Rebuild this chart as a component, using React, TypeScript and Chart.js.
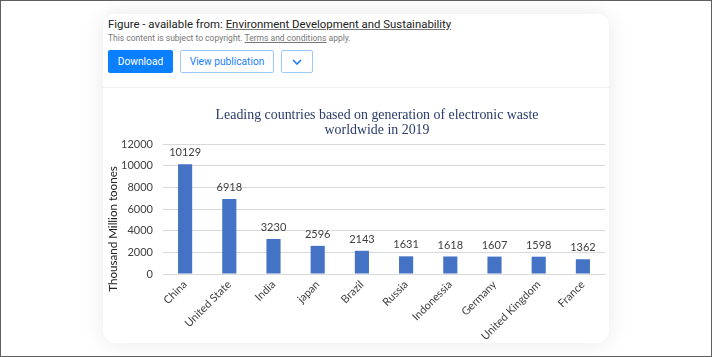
import React, { useEffect, useRef } from "react";
import { Chart, registerables } from "chart.js";

Chart.register(...registerables);

const categories = ["China", "United State", "India", "japan", "Brazil", "Russia", "Indonessia", "Germany", "United Kingdom", "France"];
const values = [10129, 6918, 3230, 2596, 2143, 1631, 1618, 1607, 1598, 1362];
const yTicks = [0, 2000, 4000, 6000, 8000, 10000, 12000];
const titleLines = ["Leading countries based on generation of electronic waste", "worldwide in 2019"];
const yTitle = "Thousand Million toones";

const FONT = "Lato, 'Open Sans', sans-serif";

const titlePlugin = {
  id: "customTitle",
  afterDraw(chart: any) {
    const ctx = chart.ctx;
    ctx.save();
    ctx.font = "13.9px 'Liberation Serif', 'Times New Roman', serif";
    ctx.fillStyle = "#2a3a6a";
    ctx.textAlign = "center";
    ctx.textBaseline = "middle";
    const cx = 274;
    titleLines.forEach((t, i) => ctx.fillText(t, cx, 27 + i * 15));
    ctx.restore();
    // y-axis title
    ctx.save();
    ctx.font = `11.6px ${FONT}`;
    ctx.fillStyle = "#222";
    ctx.textAlign = "center";
    ctx.textBaseline = "middle";
    ctx.translate(10, 141);
    ctx.rotate(-Math.PI / 2);
    ctx.fillText(yTitle, 0, 0);
    ctx.restore();
  },
};

const valueLabelPlugin = {
  id: "valueLabels",
  afterDatasetsDraw(chart: any) {
    const ctx = chart.ctx;
    const meta = chart.getDatasetMeta(0);
    ctx.save();
    ctx.font = `11px ${FONT}`;
    ctx.fillStyle = "#404040";
    ctx.textAlign = "center";
    ctx.textBaseline = "bottom";
    meta.data.forEach((bar: any, i: number) => {
      ctx.fillText(String(values[i]), bar.x, bar.y - 6);
    });
    ctx.restore();
  },
};

function ChartCanvas() {
  const ref = useRef<HTMLCanvasElement | null>(null);
  useEffect(() => {
    if (!ref.current) return;
    const chart = new Chart(ref.current, {
      type: "bar",
      data: {
        labels: categories,
        datasets: [
          {
            data: values,
            backgroundColor: "#4472c4",
            barPercentage: 0.32,
            categoryPercentage: 1,
          },
        ],
      },
      options: {
        animation: false,
        responsive: false,
        maintainAspectRatio: false,
        layout: { padding: { top: 56, right: 4, left: 0, bottom: 0 } },
        plugins: {
          legend: { display: false },
          tooltip: { enabled: false },
          title: { display: false },
        },
        scales: {
          x: {
            grid: { display: false, drawTicks: false },
            border: { color: "#d9d9d9" },
            ticks: {
              font: { family: FONT, size: 11 },
              color: "#404040",
              maxRotation: 45,
              minRotation: 45,
              padding: 4,
              autoSkip: false,
            },
            afterFit(scale: any) {
              scale.height = 69;
            },
          },
          y: {
            min: 0,
            max: 12000,
            afterBuildTicks(scale: any) {
              scale.ticks = yTicks.map((v) => ({ value: v }));
            },
            grid: { color: "#d9d9d9", drawTicks: false },
            border: { display: false },
            ticks: {
              font: { family: FONT, size: 11 },
              color: "#404040",
              padding: 10,
              callback: (v: any) => String(v),
            },
            title: { display: false },
            afterFit(scale: any) {
              scale.width = 60;
            },
          },
        },
      },
      plugins: [titlePlugin, valueLabelPlugin],
    });
    return () => chart.destroy();
  }, []);
  return <canvas ref={ref} width={506} height={255} style={{ display: "block", width: 506, height: 255 }} />;
}

export default function App() {
  useEffect(() => {
    document.body.style.margin = "0";
  }, []);
  const btn: React.CSSProperties = {
    position: "absolute",
    top: 36,
    height: 23,
    boxSizing: "border-box",
    borderRadius: 2,
    fontFamily: "Roboto, sans-serif",
    fontSize: 10.2,
    display: "flex",
    alignItems: "center",
    justifyContent: "center",
  };
  return (
    <div
      style={{
        position: "fixed",
        left: 0,
        top: 0,
        width: 712,
        height: 357,
        boxSizing: "border-box",
        border: "1px solid #5f5f5f",
        background: "#fff",
        overflow: "hidden",
      }}
    >
      <div
        style={{
          position: "absolute",
          left: 102,
          top: 13,
          width: 506,
          height: 329,
          background: "#fff",
          borderRadius: 12,
          boxShadow: "0 0 22px rgba(0,0,0,0.09)",
          overflow: "hidden",
        }}
      >
        <div
          style={{
            position: "absolute",
            left: 5,
            top: 3,
            fontFamily: "Roboto, sans-serif",
            fontSize: 11.4,
            color: "#222",
            whiteSpace: "nowrap",
          }}
        >
          Figure - available from:{" "}
          <span style={{ textDecoration: "underline", textDecorationColor: "#777" }}>
            Environment Development and Sustainability
          </span>
        </div>
        <div
          style={{
            position: "absolute",
            left: 5,
            top: 19,
            fontFamily: "Roboto, sans-serif",
            fontSize: 8.5,
            color: "#777",
            whiteSpace: "nowrap",
          }}
        >
          This content is subject to copyright.{" "}
          <span style={{ textDecoration: "underline" }}>Terms and conditions</span> apply.
        </div>
        <div style={{ ...btn, left: 5, width: 65, background: "#0a80ff", color: "#fff" }}>Download</div>
        <div style={{ ...btn, left: 77, width: 94, border: "1px solid #9cc7ff", color: "#1a7fff" }}>
          View publication
        </div>
        <div style={{ ...btn, left: 178, width: 32, border: "1px solid #9cc7ff", color: "#1a7fff" }}>
          <svg width="10" height="6" viewBox="0 0 10 6">
            <path d="M1 1 L5 5 L9 1" stroke="#1a7fff" strokeWidth="1.6" fill="none" />
          </svg>
        </div>
        <div style={{ position: "absolute", left: 0, top: 73, width: 506, height: 1, background: "#efefef" }} />
        <div style={{ position: "absolute", left: 0, top: 74 }}>
          <ChartCanvas />
        </div>
      </div>
    </div>
  );
}
